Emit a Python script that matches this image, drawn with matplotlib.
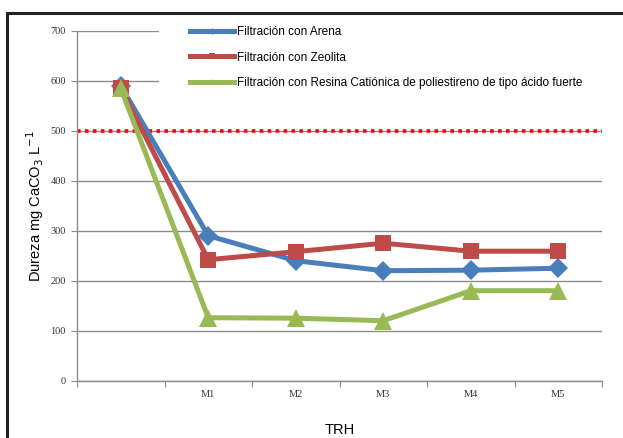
import matplotlib
matplotlib.use("Agg")
import matplotlib.pyplot as plt
from matplotlib.lines import Line2D
from matplotlib.patches import Rectangle

# Data
categories = ["", "M1", "M2", "M3", "M4", "M5"]
arena = [590, 290, 240, 220, 221, 225]
zeolita = [585, 242, 258, 275, 259, 259]
resina = [585, 126, 125, 120, 180, 180]
limite = 500
series_names = [
    "Filtración con Arena",
    "Filtración con Zeolita",
    "Filtración con Resina Catiónica de poliestireno de tipo ácido fuerte",
]
y_ticks = [0, 100, 200, 300, 400, 500, 600, 700]

blue = "#4A7EBB"
red = "#BE4B48"
green = "#98B954"

W, H = 623, 438
fig = plt.figure(figsize=(W / 100, H / 100), dpi=100)
fig.patch.set_facecolor("white")

# Outer chart frame (top and left edges visible)
fig.add_artist(Rectangle((7 / W, -0.1), 1.2, 1 - 13 / H + 0.1,
                         transform=fig.transFigure, fill=False,
                         edgecolor="#222222", linewidth=2.2))

ax = fig.add_axes([77 / W, 1 - 380.7 / H, 525 / W, 350 / H])
ax.set_xlim(0, 6)
ax.set_ylim(0, 700)

x = [i + 0.5 for i in range(len(categories))]

ax.set_yticks(y_ticks)
ax.yaxis.grid(True, color="#8C8C8C", linewidth=1)
ax.set_axisbelow(True)

ax.axhline(limite, color="#FF0000", linestyle=(0, (1, 1.2)), linewidth=2.6, zorder=2)

lw = 3.6
ax.plot(x, arena, color=blue, linewidth=lw, marker="D", markersize=10,
        markeredgewidth=0, zorder=3)
ax.plot(x, zeolita, color=red, linewidth=lw, marker="s", markersize=11,
        markeredgewidth=0, zorder=4)
ax.plot(x, resina, color=green, linewidth=lw, marker="^", markersize=13,
        markeredgewidth=0, zorder=5)

# Category boundaries as tick marks, names centred between them
ax.set_xticks(range(0, 7))
ax.set_xticklabels([])
ax.set_xticks(x, minor=True)
ax.set_xticklabels(categories, minor=True, fontfamily="Liberation Serif",
                   fontsize=7.5, color="#333333")
ax.tick_params(axis="x", which="major", length=4, color="#8C8C8C", direction="out")
ax.tick_params(axis="x", which="minor", length=0, pad=7)
ax.tick_params(axis="y", length=4, color="#8C8C8C", direction="out", pad=4)
for lab in ax.get_yticklabels():
    lab.set_fontfamily("Liberation Serif")
    lab.set_fontsize(7.5)
    lab.set_color("#333333")

for side in ["top", "right"]:
    ax.spines[side].set_visible(False)
for side in ["left", "bottom"]:
    ax.spines[side].set_color("#8C8C8C")
    ax.spines[side].set_linewidth(1)

ax.set_xlabel("TRH", fontfamily="Liberation Sans", fontsize=10.5, labelpad=17)
ax.set_ylabel("Dureza mg CaCO$_3$ L$^{-1}$", fontfamily="Liberation Sans",
              fontsize=10.5, labelpad=3)

# White legend area over the upper gridlines
fig.add_artist(Rectangle((159 / W, 1 - 96 / H), 446 / W, 78 / H,
                         transform=fig.transFigure, facecolor="white",
                         edgecolor="none", zorder=9))

handles = [
    Line2D([], [], color=blue, linewidth=3.6, marker="D", markersize=3.5, markeredgewidth=0),
    Line2D([], [], color=red, linewidth=3.6, marker="s", markersize=5, markeredgewidth=0),
    Line2D([], [], color=green, linewidth=3.6, marker="^", markersize=5, markeredgewidth=0),
]
leg = fig.legend(handles, series_names, loc="upper left",
                 bbox_to_anchor=(190 / W, 1 - 26 / H),
                 frameon=False, prop={"family": "Liberation Sans", "size": 8.5},
                 handlelength=3.7, handletextpad=0.25, labelspacing=1.15,
                 borderpad=0, borderaxespad=0)
leg.set_zorder(10)

fig.savefig("out.png", dpi=100, facecolor="white")
